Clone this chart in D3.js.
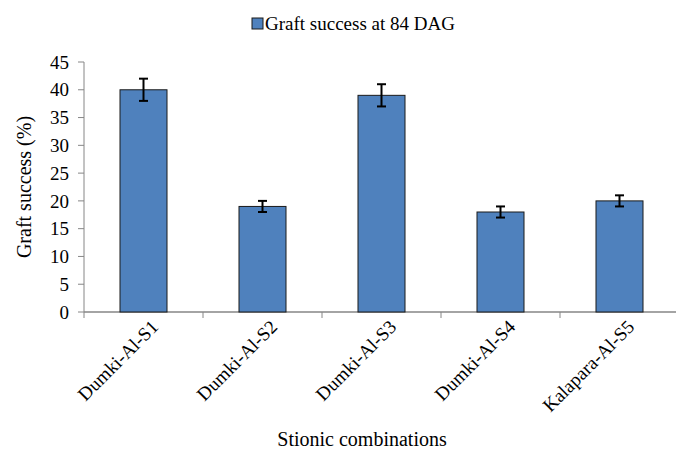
<!DOCTYPE html>
<html>
<head>
<meta charset="utf-8">
<script src="https://cdn.jsdelivr.net/npm/d3@7"></script>
<style>
  body { margin: 0; background: #fff; }
  svg text { font-family: "Liberation Serif", "Times New Roman", serif; fill: #000; }
</style>
</head>
<body>
<svg id="chart" width="676" height="454"></svg>
<script>
const categories = ["Dumki-Al-S1", "Dumki-Al-S2", "Dumki-Al-S3", "Dumki-Al-S4", "Kalapara-Al-S5"];
const values = [40, 19, 39, 18, 20];
const errors = [2, 1, 2, 1, 1];
const yTicks = [0, 5, 10, 15, 20, 25, 30, 35, 40, 45];
const seriesName = "Graft success at 84 DAG";

(function () {
const FONT = "Liberation Serif, Times New Roman, serif";
const svg = d3.select("#chart");
const mLeft = 84, mRight = 679, mTop = 62, mBottom = 312;
const axisColor = "#868686";

const x = d3.scaleBand().domain(categories).range([mLeft, mRight])
  .paddingInner(0.605).paddingOuter(0.3025);
const y = d3.scaleLinear().domain([0, 45]).range([mBottom, mTop]);

// y axis
svg.append("line").attr("x1", mLeft).attr("x2", mLeft).attr("y1", y(45)).attr("y2", y(0))
  .attr("stroke", axisColor).attr("stroke-width", 1);
svg.selectAll(".ytick").data(yTicks).enter().append("line")
  .attr("x1", mLeft - 6).attr("x2", mLeft).attr("y1", d => y(d)).attr("y2", d => y(d))
  .attr("stroke", axisColor);
svg.selectAll(".ylab").data(yTicks).enter().append("text")
  .attr("x", mLeft - 15).attr("y", d => y(d)).attr("dy", "0.35em")
  .attr("font-family", FONT)
  .attr("text-anchor", "end").attr("font-size", 19).text(d => d);

// x axis
svg.append("line").attr("x1", mLeft).attr("x2", mRight).attr("y1", y(0)).attr("y2", y(0))
  .attr("stroke", axisColor).attr("stroke-width", 1.5);
const step = x.step();
const bounds = d3.range(categories.length + 1).map(i => mLeft + i * step);
svg.selectAll(".xtick").data(bounds).enter().append("line")
  .attr("x1", d => d).attr("x2", d => d).attr("y1", y(0)).attr("y2", y(0) + 6)
  .attr("stroke", axisColor);

// bars
svg.selectAll(".bar").data(values).enter().append("rect")
  .attr("x", (d, i) => x(categories[i]))
  .attr("y", d => y(d))
  .attr("width", x.bandwidth())
  .attr("height", d => y(0) - y(d))
  .attr("fill", "#4F81BD").attr("stroke", "#1a1a1a").attr("stroke-width", 1);

// error bars
const g = svg.selectAll(".err").data(values).enter().append("g")
  .attr("stroke", "#000").attr("stroke-width", 2);
g.append("line")
  .attr("x1", (d, i) => x(categories[i]) + x.bandwidth() / 2)
  .attr("x2", (d, i) => x(categories[i]) + x.bandwidth() / 2)
  .attr("y1", (d, i) => y(d + errors[i])).attr("y2", (d, i) => y(d - errors[i]));
[1, -1].forEach(s => {
  g.append("line")
    .attr("x1", (d, i) => x(categories[i]) + x.bandwidth() / 2 - 4.5)
    .attr("x2", (d, i) => x(categories[i]) + x.bandwidth() / 2 + 4.5)
    .attr("y1", (d, i) => y(d + s * errors[i])).attr("y2", (d, i) => y(d + s * errors[i]));
});

// x labels rotated
svg.selectAll(".xlab").data(categories).enter().append("text")
  .attr("transform", d => `translate(${x(d) + x.bandwidth() / 2 + 16},${y(0) + 16}) rotate(-45)`)
  .attr("font-family", FONT)
  .attr("text-anchor", "end").attr("font-size", 19).text(d => d);

// axis titles
svg.append("text").attr("x", 362).attr("y", 446).attr("text-anchor", "middle")
  .attr("font-family", FONT)
  .attr("font-size", 20).text("Stionic combinations");
svg.append("text").attr("transform", `translate(31,${(mTop + mBottom) / 2}) rotate(-90)`)
  .attr("font-family", FONT)
  .attr("text-anchor", "middle").attr("font-size", 20).text("Graft success (%)");

// legend
svg.append("rect").attr("x", 252).attr("y", 18).attr("width", 11).attr("height", 11)
  .attr("fill", "#4F81BD").attr("stroke", "#1a1a1a").attr("stroke-width", 1);
svg.append("text").attr("x", 265).attr("y", 30).attr("font-size", 19)
  .attr("font-family", FONT).text(seriesName);
})();
</script>
</body>
</html>
